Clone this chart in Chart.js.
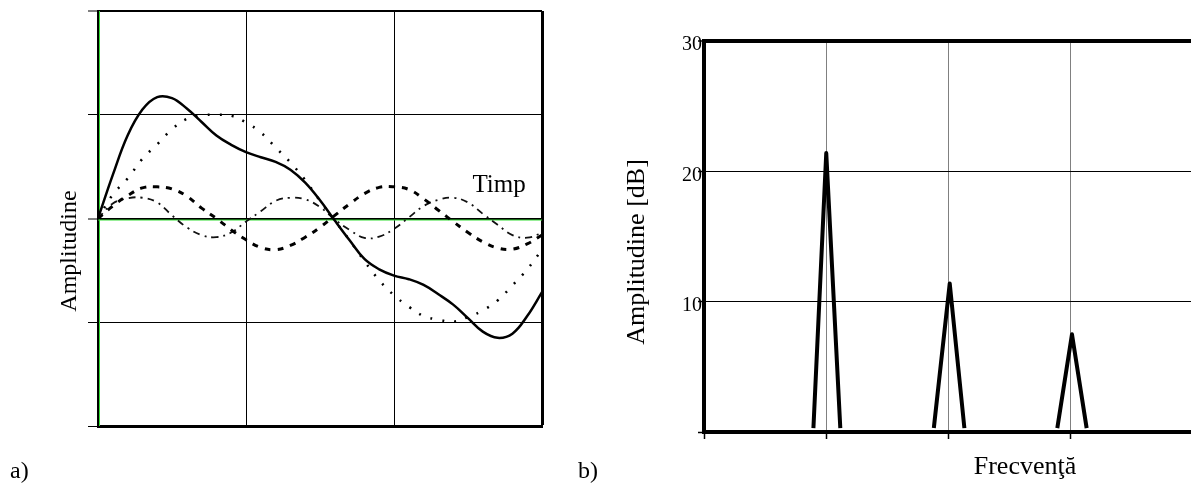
<!DOCTYPE html>
<html>
<head>
<meta charset="utf-8">
<script src="https://cdn.jsdelivr.net/npm/chart.js@4.4.1/dist/chart.umd.min.js"></script>
<style>
html, body { margin: 0; padding: 0; background: #fff; overflow: hidden; }
#left { position: absolute; left: 0; top: 0; width: 560px; height: 487px; }
#right { position: absolute; left: 560px; top: 0; width: 640px; height: 487px; }
</style>
</head>
<body>
<div id="left"><canvas id="waveChart" width="560" height="487"></canvas></div>
<div id="right"><canvas id="specChart" width="640" height="487"></canvas></div>
<script>
// a) time signals (time in grid units 0..3, amplitude -2..2)
const timeSteps = [0, 0.1, 0.2, 0.3, 0.4, 0.5, 0.6, 0.7, 0.8, 0.9, 1.0, 1.1, 1.2, 1.3, 1.4, 1.5,
  1.6, 1.7, 1.8, 1.9, 2.0, 2.1, 2.2, 2.3, 2.4, 2.5, 2.6, 2.7, 2.8, 2.9, 3.0];
const sumWave = [0, 0.42, 0.80, 1.05, 1.17, 1.16, 1.06, 0.93, 0.80, 0.71, 0.64, 0.59, 0.545, 0.47, 0.345, 0.175,
  -0.02, -0.21, -0.39, -0.49, -0.55, -0.585, -0.64, -0.73, -0.83, -0.96, -1.09, -1.15, -1.11, -0.94, -0.71];
const firstHarmonic = [0, 0.23, 0.385, 0.575, 0.715, 0.86, 0.96, 0.995, 1.0, 0.99, 0.925, 0.83, 0.685, 0.54, 0.37, 0.17,
  -0.02, -0.21, -0.41, -0.595, -0.74, -0.85, -0.94, -0.975, -0.995, -0.95, -0.885, -0.79, -0.645, -0.49, -0.30];
const secondHarmonic = [0, 0.12, 0.22, 0.295, 0.305, 0.285, 0.215, 0.10, 0.0, -0.11, -0.205, -0.28, -0.30, -0.26, -0.18, -0.085,
  0.03, 0.14, 0.24, 0.30, 0.305, 0.28, 0.19, 0.08, -0.03, -0.135, -0.225, -0.285, -0.295, -0.245, -0.16];
const thirdHarmonic = [0, 0.145, 0.195, 0.2, 0.155, 0.03, -0.085, -0.16, -0.18, -0.135, -0.03, 0.07, 0.17, 0.2, 0.185, 0.11,
  -0.01, -0.11, -0.187, -0.175, -0.10, 0.01, 0.12, 0.18, 0.2, 0.155, 0.045, -0.06, -0.16, -0.185, -0.14];

// b) spectrum lines
const peakFreq = [1.0, 2.01, 3.01];
const peakDb = [21.4, 11.4, 7.5];
const footLeft = [0.895, 1.88, 2.89];
const footRight = [1.115, 2.13, 3.13];
const footDb = 0.3;
const dbTicks = [0, 10, 20, 30];

const serif = "'Liberation Serif', 'Times New Roman', serif";

const toPoints = vals => vals.map((v, i) => ({x: timeSteps[i], y: v}));

const waveText = {
  id: 'waveText',
  beforeDatasetsDraw(chart) {
    const {ctx, chartArea, scales} = chart;
    const y0 = scales.y.getPixelForValue(0);
    ctx.save();
    ctx.strokeStyle = '#33dd33';
    ctx.lineWidth = 1;
    ctx.beginPath();
    ctx.moveTo(chartArea.left, y0 + 1.5);
    ctx.lineTo(chartArea.right, y0 + 1.5);
    ctx.moveTo(chartArea.left + 1.5, chartArea.top);
    ctx.lineTo(chartArea.left + 1.5, chartArea.bottom);
    ctx.stroke();
    ctx.restore();
  },
  afterDraw(chart) {
    const {ctx, scales} = chart;
    ctx.save();
    ctx.fillStyle = '#000';
    ctx.font = '25px ' + serif;
    ctx.textAlign = 'left';
    ctx.textBaseline = 'alphabetic';
    ctx.fillText('Timp', scales.x.getPixelForValue(2.53), scales.y.getPixelForValue(0.26));
    ctx.font = '24px ' + serif;
    ctx.fillText('a)', 10, 478);
    ctx.translate(76, 251);
    ctx.rotate(-Math.PI / 2);
    ctx.textAlign = 'center';
    ctx.fillText('Amplitudine', 0, 0);
    ctx.restore();
  }
};

const specText = {
  id: 'specText',
  afterDraw(chart) {
    const {ctx} = chart;
    ctx.save();
    ctx.fillStyle = '#000';
    ctx.font = '26px ' + serif;
    ctx.textBaseline = 'alphabetic';
    ctx.textAlign = 'center';
    ctx.fillText('Frecvenţă', 465, 474);
    ctx.textAlign = 'left';
    ctx.font = '24px ' + serif;
    ctx.fillText('b)', 18, 478);
    ctx.translate(84, 252);
    ctx.rotate(-Math.PI / 2);
    ctx.textAlign = 'center';
    ctx.font = '26px ' + serif;
    ctx.fillText('Amplitudine [dB]', 0, 0);
    ctx.restore();
  }
};

new Chart(document.getElementById('waveChart'), {
  type: 'line',
  data: {
    datasets: [
      {data: toPoints(sumWave), borderColor: '#000', borderWidth: 2.5},
      {data: toPoints(firstHarmonic), borderColor: '#000', borderWidth: 2.5, borderDash: [2, 10]},
      {data: toPoints(secondHarmonic), borderColor: '#000', borderWidth: 3, borderDash: [6, 7]},
      {data: toPoints(thirdHarmonic), borderColor: '#111', borderWidth: 1.8, borderDash: [7, 5, 2, 5]}
    ]
  },
  options: {
    responsive: false,
    animation: false,
    devicePixelRatio: 1,
    layout: {padding: {top: 11, right: 18, left: 0, bottom: 0}},
    elements: {point: {radius: 0}, line: {tension: 0.4, fill: false}},
    plugins: {legend: {display: false}, tooltip: {enabled: false}},
    scales: {
      x: {
        type: 'linear', min: 0, max: 3,
        afterFit: s => { s.height = 61; },
        ticks: {display: false, stepSize: 1},
        grid: {color: '#000', lineWidth: c => c.tick.value === 3 ? 3 : 1, drawTicks: false},
        border: {color: '#000', width: 3}
      },
      y: {
        min: -2, max: 2,
        afterFit: s => { s.width = 98; },
        ticks: {display: false, stepSize: 1},
        grid: {
          color: '#000',
          lineWidth: c => (c.tick.value === 2 || c.tick.value === 0) ? 2 : 1,
          tickLength: 10, tickColor: '#000', tickWidth: 1
        },
        border: {color: '#000', width: 2}
      }
    }
  },
  plugins: [waveText]
});

const peakSets = peakFreq.map((f, i) => ({
  data: [{x: footLeft[i], y: footDb}, {x: f, y: peakDb[i]}, {x: footRight[i], y: footDb}],
  borderColor: '#000',
  borderWidth: 4,
  borderJoinStyle: 'round',
  tension: 0
}));

new Chart(document.getElementById('specChart'), {
  type: 'line',
  data: {datasets: peakSets},
  options: {
    responsive: false,
    animation: false,
    devicePixelRatio: 1,
    layout: {padding: {top: 41, right: 7, left: 0, bottom: 0}},
    elements: {point: {radius: 0}},
    plugins: {legend: {display: false}, tooltip: {enabled: false}},
    scales: {
      x: {
        type: 'linear', min: 0, max: 4,
        afterFit: s => { s.height = 55; },
        ticks: {display: false, stepSize: 1},
        grid: {color: '#808080', lineWidth: 1, tickLength: 7, tickColor: '#000', tickWidth: 1.5},
        border: {color: '#000', width: 4}
      },
      y: {
        min: 0, max: 30,
        afterFit: s => { s.width = 144; },
        afterBuildTicks: s => { s.ticks = dbTicks.map(v => ({value: v})); },
        ticks: {
          color: '#000',
          font: {family: serif, size: 20},
          padding: -4,
          labelOffset: 4,
          callback: v => v === 0 ? '' : String(v)
        },
        grid: {
          color: '#000',
          lineWidth: c => c.tick.value === 30 ? 4 : 1,
          tickLength: 6, tickColor: '#000', tickWidth: 1.5
        },
        border: {color: '#000', width: 4}
      }
    }
  },
  plugins: [specText]
});
</script>
</body>
</html>
